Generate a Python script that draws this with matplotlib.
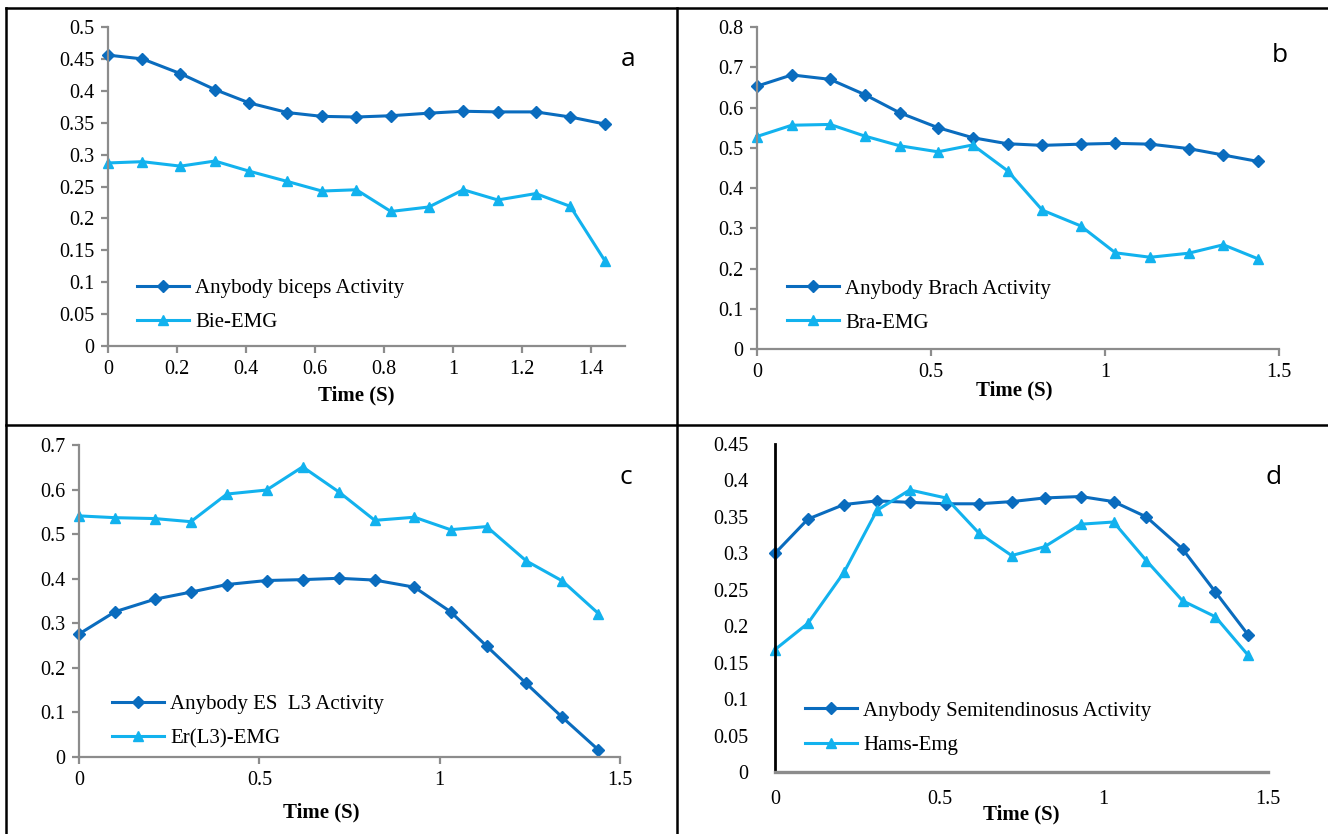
import numpy as np
import matplotlib
matplotlib.use("Agg")
import matplotlib.pyplot as plt
from matplotlib.lines import Line2D
from matplotlib.ticker import FuncFormatter

plt.rcParams['font.family'] = ['Liberation Serif', 'DejaVu Serif']

# temps commun aux quatre graphes (s)
time_s = [0, 0.1, 0.21, 0.31, 0.41, 0.52, 0.62, 0.72, 0.82, 0.93, 1.03, 1.13, 1.24, 1.34, 1.44]

# a - biceps
biceps_anybody = [0.456, 0.450, 0.427, 0.402, 0.381, 0.366, 0.360, 0.359, 0.361, 0.365,
                  0.368, 0.367, 0.367, 0.359, 0.348]
biceps_emg = [0.287, 0.289, 0.282, 0.290, 0.274, 0.258, 0.243, 0.245, 0.211, 0.218,
              0.245, 0.229, 0.239, 0.219, 0.134]

# b - brachialis
brach_anybody = [0.653, 0.681, 0.670, 0.632, 0.587, 0.550, 0.525, 0.510, 0.506, 0.509,
                 0.511, 0.509, 0.498, 0.482, 0.466]
brach_emg = [0.528, 0.556, 0.558, 0.529, 0.505, 0.490, 0.507, 0.443, 0.345, 0.306,
             0.239, 0.228, 0.238, 0.259, 0.224]

# c - erector spinae L3
es_anybody = [0.276, 0.326, 0.354, 0.370, 0.387, 0.396, 0.398, 0.401, 0.397, 0.381,
              0.326, 0.249, 0.165, 0.089, 0.016]
es_emg = [0.541, 0.537, 0.535, 0.528, 0.590, 0.599, 0.651, 0.595, 0.531, 0.538,
          0.510, 0.517, 0.440, 0.395, 0.322]

# d - semitendinosus / hamstrings
semi_anybody = [0.300, 0.347, 0.367, 0.372, 0.370, 0.368, 0.368, 0.371, 0.376, 0.378,
                0.371, 0.350, 0.306, 0.247, 0.188]
hams_emg = [0.168, 0.204, 0.274, 0.359, 0.387, 0.376, 0.328, 0.297, 0.309, 0.340,
            0.343, 0.290, 0.235, 0.213, 0.160]

DARK = '#0A6CBE'
LIGHT = '#12B2EE'
AXIS_GREY = '#8C8C8C'

fig = plt.figure(figsize=(13.28, 8.34), dpi=100)

panels = [
    dict(rect=[0.0813, 0.585, 0.3897, 0.3826], y1=biceps_anybody, y2=biceps_emg,
         lab=['Anybody biceps Activity', 'Bie-EMG'], ymax=0.5, ystep=0.05,
         xticks=np.arange(0, 1.41, 0.2), letter='a', lpos=(628, 60), leg=(0.056, 0.128),
         xlab=(0.479, -49 / 319), style='excel'),
    dict(rect=[0.5700, 0.5815, 0.3931, 0.3861], y1=brach_anybody, y2=brach_emg,
         lab=['Anybody Brach Activity', 'Bra-EMG'], ymax=0.8, ystep=0.1,
         xticks=[0, 0.5, 1, 1.5], letter='b', lpos=(1280, 55), leg=(0.057, 0.134),
         xlab=(0.492, -41 / 322), style='excel'),
    dict(rect=[0.0595, 0.0923, 0.4074, 0.3741], y1=es_anybody, y2=es_emg,
         lab=['Anybody ES  L3 Activity', 'Er(L3)-EMG'], ymax=0.7, ystep=0.1,
         xticks=[0, 0.5, 1, 1.5], letter='c', lpos=(626, 477), leg=(0.061, 0.115),
         xlab=(0.447, -55 / 312), style='excel'),
    dict(rect=[0.5836, 0.0743, 0.3712, 0.3933], y1=semi_anybody, y2=hams_emg,
         lab=['Anybody Semitendinosus Activity', 'Hams-Emg'], ymax=0.45, ystep=0.05,
         xticks=[0, 0.5, 1, 1.5], letter='d', lpos=(1274, 478), leg=(0.061, 0.134),
         xlab=(0.499, -42 / 328), style='plain'),
]

fmt = FuncFormatter(lambda v, p: f'{v:g}')

for p in panels:
    ax = fig.add_axes(p['rect'])
    ax.plot(time_s, p['y1'], color=DARK, lw=2.2, marker='D', ms=6, label=p['lab'][0], clip_on=False)
    ax.plot(time_s, p['y2'], color=LIGHT, lw=2.2, marker='^', ms=7.5, label=p['lab'][1], clip_on=False)
    ax.set_xlim(0, 1.5)
    ax.set_ylim(0, p['ymax'])
    ax.set_yticks(np.arange(0, p['ymax'] + 1e-9, p['ystep']))
    ax.set_xticks(p['xticks'])
    ax.xaxis.set_major_formatter(fmt)
    ax.yaxis.set_major_formatter(fmt)
    for s in ['top', 'right']:
        ax.spines[s].set_visible(False)
    if p['style'] == 'excel':
        for s in ['left', 'bottom']:
            ax.spines[s].set_color(AXIS_GREY)
            ax.spines[s].set_linewidth(1.6)
        ax.tick_params(direction='out', length=5, width=1.6, color=AXIS_GREY,
                       labelsize=14.5, pad=5)
    else:
        ax.spines['left'].set_color('black')
        ax.spines['left'].set_linewidth(2.0)
        ax.spines['bottom'].set_color(AXIS_GREY)
        ax.spines['bottom'].set_linewidth(2.4)
        ax.tick_params(axis='x', length=0, labelsize=14.5, pad=13)
        ax.tick_params(axis='y', length=0, labelsize=14.5, pad=19)
    ax.set_xlabel('Time (S)', fontsize=15, fontweight='bold', va='center')
    ax.xaxis.set_label_coords(*p['xlab'])
    ax.legend(loc='center left', bbox_to_anchor=p['leg'], frameon=False, fontsize=15,
              handlelength=2.5, handletextpad=0.3, labelspacing=0.7,
              borderpad=0, borderaxespad=0)
    fig.text(p['lpos'][0] / 1328, 1 - p['lpos'][1] / 834, p['letter'],
             family=['Open Sans', 'DejaVu Sans'], fontsize=19, ha='center', va='center')

# cadres entre les panneaux
W, H = 1328, 834
frame = dict(color='black', lw=1.8)
fig.add_artist(Line2D([6 / W, 6 / W], [0, 1 - 8 / H], **frame))
fig.add_artist(Line2D([6 / W, 1], [1 - 8 / H, 1 - 8 / H], **frame))
fig.add_artist(Line2D([6 / W, 1], [1 - 425 / H, 1 - 425 / H], **frame))
fig.add_artist(Line2D([677 / W, 677 / W], [0, 1 - 8 / H], **frame))

fig.savefig('out.png', dpi=100)
